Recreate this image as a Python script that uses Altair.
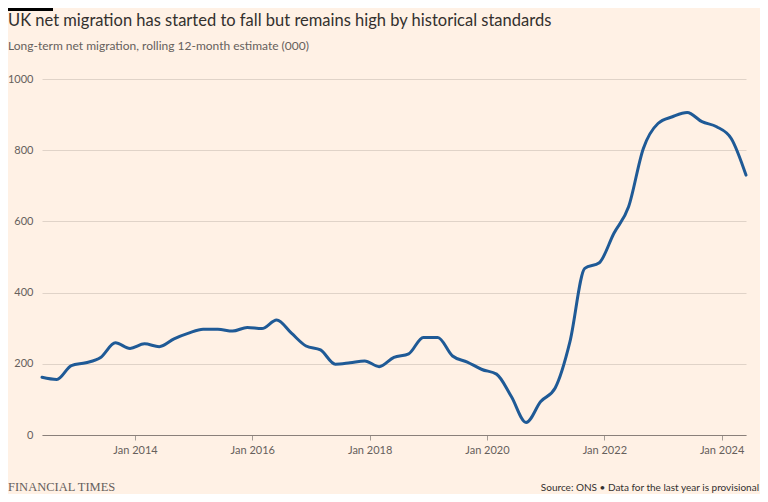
import altair as alt
import pandas as pd

# Quarterly, year ending (rolling 12-month) long-term net migration, thousands
dates = [
    "2012-06-01", "2012-09-01", "2012-12-01",
    "2013-03-01", "2013-06-01", "2013-09-01", "2013-12-01",
    "2014-03-01", "2014-06-01", "2014-09-01", "2014-12-01",
    "2015-03-01", "2015-06-01", "2015-09-01", "2015-12-01",
    "2016-03-01", "2016-06-01", "2016-09-01", "2016-12-01",
    "2017-03-01", "2017-06-01", "2017-09-01", "2017-12-01",
    "2018-03-01", "2018-06-01", "2018-09-01", "2018-12-01",
    "2019-03-01", "2019-06-01", "2019-09-01", "2019-12-01",
    "2020-03-01", "2020-06-01", "2020-09-01", "2020-12-01",
    "2021-03-01", "2021-06-01", "2021-09-01", "2021-12-01",
    "2022-03-01", "2022-06-01", "2022-09-01", "2022-12-01",
    "2023-03-01", "2023-06-01", "2023-09-01", "2023-12-01",
    "2024-03-01", "2024-06-01",
]
values = [
    162, 156, 195,
    203, 218, 259, 243,
    256, 248, 270, 286,
    297, 297, 292, 302,
    299, 323, 286, 250,
    239, 199, 203, 208,
    192, 218, 228, 274,
    274, 222, 205, 184,
    171, 108, 35, 94,
    132, 262, 468, 484,
    566, 641, 805, 875,
    894, 906, 880, 866,
    833, 730,
]

y_ticks = [0, 200, 400, 600, 800, 1000]
x_tick_years = [2014, 2016, 2018, 2020, 2022, 2024]

title = "UK net migration has started to fall but remains high by historical standards"
subtitle = "Long-term net migration, rolling 12-month estimate (000)"
brand = "FINANCIAL TIMES"
source = "Source: ONS \u2022 Data for the last year is provisional"

BG = "#fff1e5"
TEXT = "#33302e"
MUTED = "#66605c"
GRID = "#e0d3c8"
AXIS = "#8a807a"
LINE = "#1f5a96"
FONT = "Lato"

# page coords: plot from x=42..746, y=79..435 ; svg 752x486 at (8,8)
W, H = 704, 356
PAD_L, PAD_T, PAD_R, PAD_B = 34, 71, 14, 59

df = pd.DataFrame({"date": pd.to_datetime(dates), "value": values})

x_enc = alt.X(
    "date:T",
    scale=alt.Scale(domain=[alt.DateTime(year=2012, month=6, date=1),
                            alt.DateTime(year=2024, month=6, date=1)]),
    axis=alt.Axis(
        title=None,
        values=[alt.DateTime(year=y, month=1, date=1) for y in x_tick_years],
        format="%b %Y",
        grid=False,
        domain=True,
        domainColor=AXIS,
        domainWidth=1,
        ticks=True,
        tickColor="#a59c95",
        tickSize=5,
        labelPadding=4,
        labelColor=MUTED,
        labelFont=FONT,
        labelFontSize=11,
    ),
)
y_enc = alt.Y(
    "value:Q",
    scale=alt.Scale(domain=[0, 1000], nice=False),
    axis=alt.Axis(
        title=None,
        values=y_ticks,
        format="d",
        grid=True,
        gridColor=GRID,
        gridWidth=1,
        domain=False,
        ticks=False,
        labelPadding=9,
        labelColor=MUTED,
        labelFont=FONT,
        labelFontSize=11,
        labelAlign="right",
        labelBaseline="middle",
    ),
)

line = alt.Chart(df).mark_line(
    color=LINE, strokeWidth=3, interpolate="monotone", strokeCap="round", strokeJoin="round"
).encode(x=x_enc, y=y_enc)

def text_layer(txt, x, y, size, color, font=FONT, align="left", weight="normal"):
    return alt.Chart(pd.DataFrame({"t": [txt]})).mark_text(
        align=align, baseline="middle", fontSize=size, color=color, font=font, fontWeight=weight
    ).encode(text="t:N", x=alt.value(x), y=alt.value(y))

bar = alt.Chart(pd.DataFrame({"a": [0]})).mark_rect(color="#000000").encode(
    x=alt.value(-PAD_L), x2=alt.value(-PAD_L + 45), y=alt.value(-PAD_T), y2=alt.value(-PAD_T + 3)
)

t_title = text_layer(title, -PAD_L, -58, 16.5, TEXT)
t_sub = text_layer(subtitle, -PAD_L, -33, 12, MUTED)
t_brand = text_layer(brand, -PAD_L, 408, 12.5, MUTED, font="Liberation Serif")
t_source = text_layer(source, 717, 409, 10, TEXT, align="right")

chart = alt.layer(line, bar, t_title, t_sub, t_brand, t_source).properties(
    width=W,
    height=H,
    padding={"left": PAD_L, "top": PAD_T, "right": PAD_R, "bottom": PAD_B},
    autosize=alt.AutoSizeParams(type="none"),
    background=BG,
).configure_view(stroke=None)

chart.save("out.html", embed_options={"renderer": "svg", "actions": False})
